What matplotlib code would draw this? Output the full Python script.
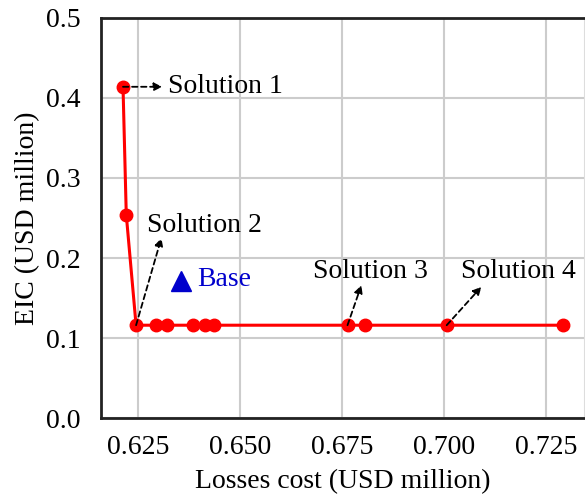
import matplotlib.pyplot as plt

# Pareto front: losses cost vs. EIC (USD million)
losses_cost = [0.6214, 0.6222, 0.6246, 0.6295, 0.6322, 0.6386, 0.6415, 0.6437,
               0.6764, 0.6808, 0.7007, 0.7293]
eic = [0.414, 0.254, 0.116, 0.116, 0.116, 0.116, 0.116, 0.116,
       0.116, 0.116, 0.116, 0.116]

base_cost = 0.6355
base_eic = 0.171

# label, index of the point it refers to, arrow tip, text anchor (left, center)
solution_labels = ["Solution 1", "Solution 2", "Solution 3", "Solution 4"]
solution_index = [0, 2, 8, 10]
arrow_tips = [(0.6310, 0.414), (0.6308, 0.225), (0.6798, 0.166), (0.7092, 0.164)]
text_pos = [(0.6324, 0.414), (0.6272, 0.241), (0.6680, 0.183), (0.7042, 0.183)]

x_ticks = [0.625, 0.650, 0.675, 0.700, 0.725]
y_ticks = [0.0, 0.1, 0.2, 0.3, 0.4, 0.5]

plt.rcParams["font.family"] = ["Liberation Serif", "DejaVu Serif"]
plt.rcParams["font.size"] = 20

fig = plt.figure(figsize=(5.85, 4.98), dpi=100)
ax = fig.add_axes([0.1726, 0.1606, 0.8254, 0.8033])

ax.plot(losses_cost, eic, color="red", linewidth=2.2, marker="o", markersize=9, zorder=3)
ax.plot(base_cost, base_eic, marker="^", color="#0000CC", markersize=14,
        linestyle="none", zorder=3)
ax.text(0.6395, base_eic + 0.002, "Base", color="#0000CC", va="center", ha="left")

for label, idx, tip, pos in zip(solution_labels, solution_index, arrow_tips, text_pos):
    ax.annotate("", xy=tip, xytext=(losses_cost[idx], eic[idx]),
                arrowprops=dict(arrowstyle="-|>", linestyle=(0, (3, 2)), color="black", lw=1.3,
                                shrinkA=0, shrinkB=0, mutation_scale=12), zorder=4)
    ax.text(pos[0], pos[1], label, va="center", ha="left")

ax.set_xlim(0.6160, 0.7343)
ax.set_ylim(0, 0.5)
ax.set_xticks(x_ticks)
ax.set_xticklabels([f"{v:.3f}" for v in x_ticks])
ax.set_yticks(y_ticks)
ax.set_yticklabels([f"{v:.1f}" for v in y_ticks])
ax.tick_params(axis="x", length=0, pad=12)
ax.tick_params(axis="y", length=0, pad=15)
ax.grid(color="#cccccc", linewidth=1.5)
ax.set_axisbelow(True)

for side in ["left", "bottom", "top"]:
    ax.spines[side].set_linewidth(2)
    ax.spines[side].set_color("#222222")
ax.spines["right"].set_color("#dddddd")

ax.set_xlabel("Losses cost (USD million)", labelpad=7)
ax.set_ylabel("EIC (USD million)", labelpad=4)

fig.savefig("out.png", dpi=100)
